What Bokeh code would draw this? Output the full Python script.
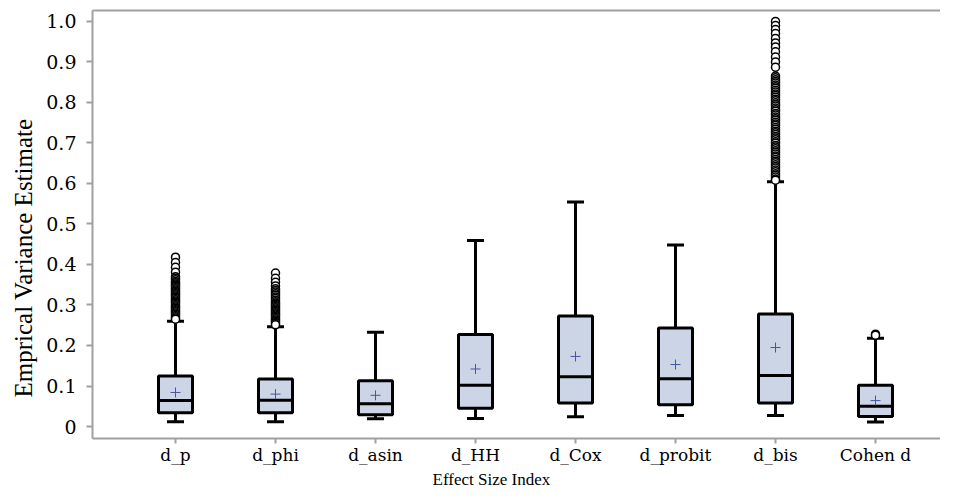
from bokeh.plotting import figure
from bokeh.models import FixedTicker, LinearAxis, Range1d, Title
from bokeh.embed import file_html
from bokeh.resources import INLINE

# ---- data ----
categories = ["d_p", "d_phi", "d_asin", "d_HH", "d_Cox", "d_probit", "d_bis", "Cohen d"]
lower_whisker = [0.012, 0.012, 0.019, 0.020, 0.024, 0.027, 0.027, 0.011]
q1 = [0.034, 0.034, 0.029, 0.045, 0.058, 0.054, 0.058, 0.025]
median = [0.064, 0.065, 0.056, 0.102, 0.123, 0.118, 0.126, 0.050]
q3 = [0.125, 0.117, 0.113, 0.227, 0.273, 0.243, 0.278, 0.102]
upper_whisker = [0.260, 0.246, 0.233, 0.459, 0.554, 0.448, 0.604, 0.218]
mean = [0.084, 0.080, 0.077, 0.142, 0.173, 0.153, 0.195, 0.064]

out_d_p = [0.418, 0.405, 0.393, 0.381, 0.370, 0.366, 0.362, 0.358, 0.355, 0.352,
           0.349, 0.346, 0.343, 0.340, 0.337, 0.334, 0.331, 0.328, 0.325, 0.322,
           0.319, 0.316, 0.313, 0.310, 0.307, 0.304, 0.301, 0.298, 0.295, 0.292,
           0.289, 0.286, 0.283, 0.280, 0.277, 0.274, 0.271, 0.268, 0.265]
out_d_phi = [0.379, 0.366, 0.356, 0.347, 0.340, 0.336, 0.332, 0.328, 0.324, 0.320,
             0.316, 0.312, 0.308, 0.305, 0.302, 0.299, 0.296, 0.293, 0.290, 0.287,
             0.284, 0.281, 0.278, 0.275, 0.272, 0.269, 0.266, 0.263, 0.260, 0.257,
             0.254, 0.251]
out_d_bis = [1.000, 0.990, 0.980, 0.970, 0.958, 0.947, 0.937, 0.925, 0.912, 0.900,
             0.887, 0.865, 0.861, 0.856, 0.852, 0.848, 0.843, 0.839, 0.835, 0.830,
             0.826, 0.821, 0.817, 0.813, 0.808, 0.804, 0.799, 0.795, 0.791, 0.786,
             0.782, 0.778, 0.773, 0.769, 0.764, 0.760, 0.756, 0.751, 0.747, 0.743,
             0.738, 0.734, 0.729, 0.725, 0.721, 0.716, 0.712, 0.708, 0.703, 0.699,
             0.694, 0.690, 0.686, 0.681, 0.677, 0.673, 0.668, 0.664, 0.659, 0.655,
             0.651, 0.646, 0.642, 0.638, 0.633, 0.629, 0.624, 0.620, 0.616, 0.611,
             0.608]
out_cohen = [0.228, 0.225]
outliers = {"d_p": out_d_p, "d_phi": out_d_phi, "d_bis": out_d_bis, "Cohen d": out_cohen}

y_ticks = [0, 0.1, 0.2, 0.3, 0.4, 0.5, 0.6, 0.7, 0.8, 0.9, 1.0]
y_labels = ["0", "0.1", "0.2", "0.3", "0.4", "0.5", "0.6", "0.7", "0.8", "0.9", "1.0"]

# ---- styling ----
BOX_FILL = "#cbd5e6"
AXIS_GRAY = "#a0a0a0"
MEAN_COLOR = "#4655a5"
BOX_W = 0.34
CAP_W = 0.17

positions = list(range(1, len(categories) + 1))

p = figure(width=940, height=488, output_backend="svg", toolbar_location=None,
           x_range=Range1d(0.17, 8.65), y_range=Range1d(-0.0296, 1.027),
           min_border_left=92, min_border_top=10, min_border_bottom=0, min_border_right=0)
p.outline_line_color = None
p.xgrid.visible = False
p.ygrid.visible = False
p.background_fill_color = "white"

# whiskers
p.segment(x0=positions, y0=q3, x1=positions, y1=upper_whisker, line_color="black", line_width=3)
p.segment(x0=positions, y0=q1, x1=positions, y1=lower_whisker, line_color="black", line_width=3)
cap_l = [x - CAP_W / 2 for x in positions]
cap_r = [x + CAP_W / 2 for x in positions]
p.segment(x0=cap_l, y0=upper_whisker, x1=cap_r, y1=upper_whisker, line_color="black", line_width=3)
p.segment(x0=cap_l, y0=lower_whisker, x1=cap_r, y1=lower_whisker, line_color="black", line_width=3)

# boxes
p.vbar(x=positions, width=BOX_W, bottom=q1, top=q3, fill_color=BOX_FILL,
       line_color="black", line_width=3)
box_l = [x - BOX_W / 2 for x in positions]
box_r = [x + BOX_W / 2 for x in positions]
p.segment(x0=box_l, y0=median, x1=box_r, y1=median, line_color="black", line_width=3)

# means
p.scatter(x=positions, y=mean, marker="cross", size=10, line_color=MEAN_COLOR, line_width=1)

# outliers
for name, vals in outliers.items():
    xpos = positions[categories.index(name)]
    p.scatter(x=[xpos] * len(vals), y=vals, marker="circle", size=8,
              fill_color="white", line_color="black", line_width=1.5)

# axes
p.xaxis.ticker = FixedTicker(ticks=positions)
p.xaxis.major_label_overrides = {x: c for x, c in zip(positions, categories)}
p.yaxis.ticker = FixedTicker(ticks=y_ticks)
p.yaxis.major_label_overrides = {t: l for t, l in zip(y_ticks, y_labels)}

for ax in (p.xaxis[0], p.yaxis[0]):
    ax.axis_line_color = AXIS_GRAY
    ax.axis_line_width = 2
    ax.major_tick_line_color = AXIS_GRAY
    ax.major_tick_line_width = 2
    ax.major_tick_out = 6
    ax.major_tick_in = 0
    ax.minor_tick_line_color = None
    ax.major_label_text_color = "black"

p.xaxis.major_tick_out = 5
p.xaxis.major_label_text_font = "DejaVu Serif"
p.xaxis.major_label_text_font_size = "17px"
p.xaxis.major_label_standoff = 1

p.yaxis.major_label_text_font = "DejaVu Serif"
p.yaxis.major_label_text_font_size = "19px"
p.yaxis.major_label_standoff = 10

# axis titles as Title annotations, positioned like the reference
y_title = Title(text="Emprical Variance Estimate", align="left", offset=41, standoff=13,
                text_font="Liberation Serif", text_font_size="25px",
                text_font_style="normal", text_color="black")
p.add_layout(y_title, "left")

x_title = Title(text="Effect Size Index", align="left", offset=340, standoff=0,
                text_font="Liberation Serif", text_font_size="17px",
                text_font_style="normal", text_color="black")
p.add_layout(x_title, "below")

top_axis = LinearAxis(ticker=FixedTicker(ticks=[]), axis_line_color=AXIS_GRAY, axis_line_width=2,
                      major_tick_line_color=None, minor_tick_line_color=None,
                      major_label_text_font_size="0px", major_label_standoff=0)
p.add_layout(top_axis, "above")

open("out.html", "w").write(file_html(p, INLINE))
